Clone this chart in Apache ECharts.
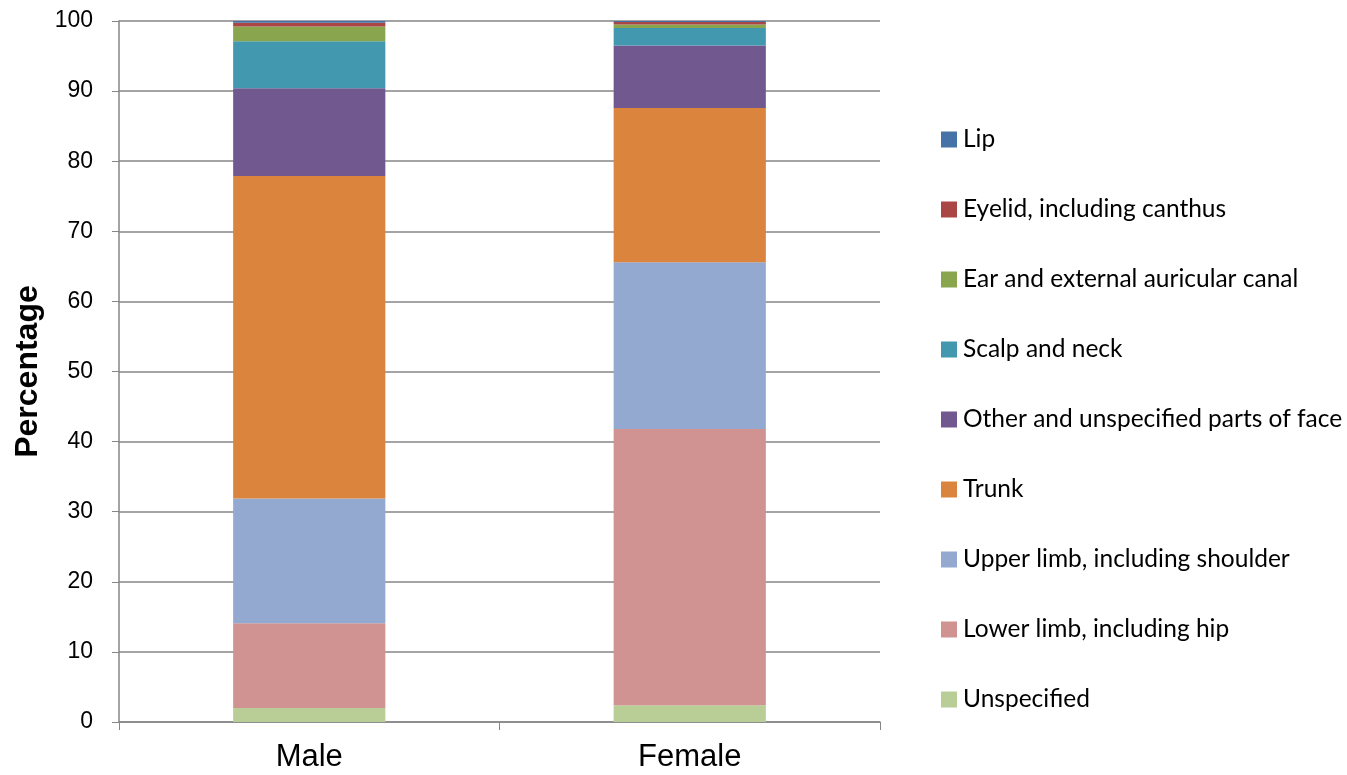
<!DOCTYPE html>
<html>
<head>
<meta charset="utf-8">
<script src="https://cdn.jsdelivr.net/npm/echarts@6/dist/echarts.min.js"></script>
<style>
  html, body { margin: 0; padding: 0; background: #fff; }
  #chart { width: 1347px; height: 775px; }
</style>
</head>
<body>
<div id="chart"></div>
<script>
// Sex groups on the category axis
const categories = ['Male', 'Female'];

// Share (%) of cases by anatomical site, stacked bottom to top
const siteNames = [
  'Unspecified',
  'Lower limb, including hip',
  'Upper limb, including shoulder',
  'Trunk',
  'Other and unspecified parts of face',
  'Scalp and neck',
  'Ear and external auricular canal',
  'Eyelid, including canthus',
  'Lip'
];
const unspecified = [2.0, 2.4];
const lowerLimb   = [12.1, 39.4];
const upperLimb   = [17.8, 23.8];
const trunk       = [46.0, 22.0];
const otherFace   = [12.5, 8.9];
const scalpNeck   = [6.7, 2.5];
const ear         = [2.1, 0.5];
const eyelid      = [0.55, 0.35];
const lip         = [0.25, 0.15];

const siteValues = [unspecified, lowerLimb, upperLimb, trunk, otherFace, scalpNeck, ear, eyelid, lip];
const siteColors = ['#B9CD96', '#D19392', '#93A9CF', '#DB843D', '#71588F', '#4198AF', '#89A54E', '#AA4643', '#4572A7'];

// Y axis ticks
const yTicks = [0, 10, 20, 30, 40, 50, 60, 70, 80, 90, 100];

const chart = echarts.init(document.getElementById('chart'));

const series = siteNames.map((name, i) => ({
  name: name,
  type: 'bar',
  stack: 'total',
  barWidth: '40%',
  data: siteValues[i],
  itemStyle: { color: siteColors[i] },
  emphasis: { disabled: true }
}));

chart.setOption({
  animation: false,
  grid: { left: 119, right: 467, top: 21, bottom: 53, containLabel: false, outerBoundsMode: 'none' },
  legend: {
    orient: 'vertical',
    left: 941,
    top: 127,
    height: 640,
    padding: 0,
    itemWidth: 16,
    itemHeight: 16,
    itemGap: 45,
    icon: 'rect',
    data: siteNames.slice().reverse(),
    textStyle: { fontFamily: 'Lato', fontSize: 24.5, color: '#000', padding: [0, 0, 0, 1] },
    selectedMode: false
  },
  xAxis: {
    type: 'category',
    data: categories,
    axisLine: { lineStyle: { color: '#868686', width: 1.5 } },
    axisTick: { show: true, length: 8, lineStyle: { color: '#868686' } },
    axisLabel: { fontFamily: 'Liberation Sans', fontSize: 31, color: '#000', margin: 20 }
  },
  yAxis: {
    type: 'value',
    min: yTicks[0],
    max: yTicks[yTicks.length - 1],
    interval: 10,
    name: 'Percentage',
    nameLocation: 'middle',
    nameGap: 73,
    nameTextStyle: { fontFamily: 'Liberation Sans', fontSize: 32, fontWeight: 'bold', color: '#000' },
    axisLine: { show: true, lineStyle: { color: '#868686', width: 1.5 } },
    axisTick: { show: true, length: 7, inside: false, lineStyle: { color: '#868686' } },
    axisLabel: { fontFamily: 'Liberation Sans', fontSize: 23, color: '#000', margin: 26 },
    splitLine: { show: true, lineStyle: { color: '#868686', width: 1.5 } }
  },
  series: series
});
</script>
</body>
</html>
